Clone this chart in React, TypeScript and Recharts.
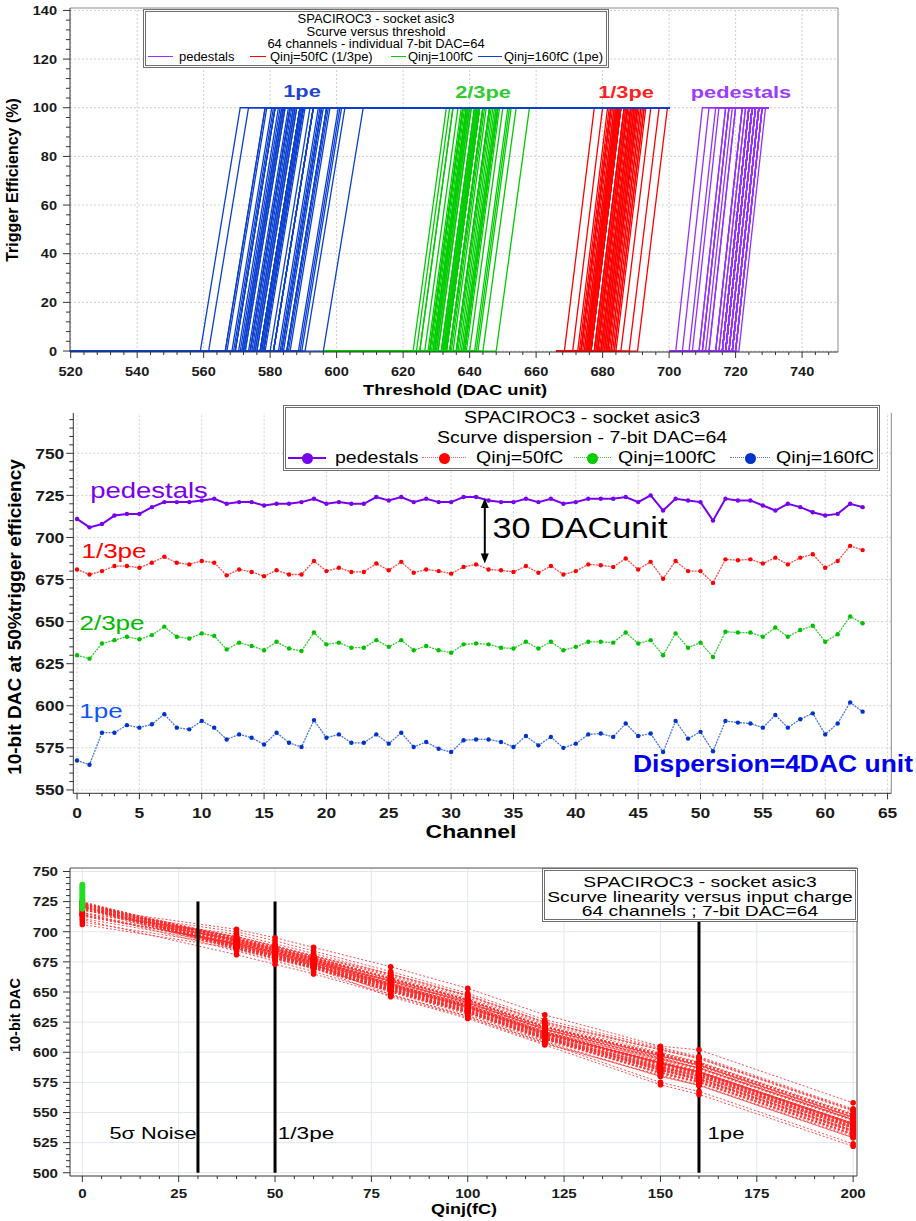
import React from 'react';
import { LineChart, Line, XAxis, YAxis, ReferenceLine } from 'recharts';

const FONT = '"Liberation Sans", Arial, Helvetica, sans-serif';

// 10-bit DAC at 50% trigger efficiency, one value per channel (0..63)
const pedestals = [
  711, 706, 708, 713, 714, 714, 718, 721, 721, 721,
  722, 723, 720, 721, 721, 719, 720, 720, 721, 723,
  720, 721, 720, 720, 724, 722, 724, 721, 723, 721,
  721, 724, 724, 722, 721, 721, 723, 721, 723, 720,
  721, 723, 723, 723, 724, 721, 725, 716, 723, 722,
  721, 710, 723, 722, 722, 719, 716, 720, 718, 715,
  713, 714, 720, 718,
];
// Qinj = 50fC (1/3pe)
const thirdPe = [
  681, 678, 680, 683, 683, 682, 685, 688.5, 685, 684,
  686, 685, 677.5, 681, 679.5, 677, 680.5, 678, 678, 686,
  680, 682, 679.5, 679.5, 684.5, 680.5, 685.5, 679, 681, 680,
  678.5, 682.5, 684, 681, 680.5, 679.5, 683, 679, 683, 678,
  680, 684, 683.5, 682.5, 687.5, 681, 685.5, 675.5, 686, 680,
  680, 673, 687, 686.5, 687, 684.5, 688, 684, 688, 690,
  682, 686, 695, 692.5,
];
// Qinj = 100fC (2/3pe)
const twoThirdPe = [
  630, 628, 637, 639, 641, 639.5, 642, 647, 641, 640,
  643, 641.5, 633.5, 637.5, 635.5, 633, 638, 634, 632.5, 643.5,
  636.5, 637.5, 634.5, 634.5, 639, 635, 639, 633, 635.5, 633,
  631.5, 636.5, 637, 636.5, 634.5, 634, 638, 634, 638, 633,
  635, 638, 638, 637.5, 643.5, 637, 639, 630, 643, 634.5,
  637.5, 629, 644, 643.5, 643.5, 641, 646.5, 641, 645, 647.5,
  638, 642.5, 653, 649,
];
// Qinj = 160fC (1pe)
const onePe = [
  567.5, 565, 584, 584, 588.5, 587, 589, 595, 587, 586,
  591, 587, 580, 583, 581, 577, 584, 578, 575.5, 591.5,
  581, 583, 578, 578, 583, 577.5, 584, 575.5, 578.5, 574.5,
  572.5, 579.5, 580, 580, 578.5, 575.5, 582, 576.5, 581.5, 575,
  577.5, 583, 583.5, 581.5, 589.5, 582, 583.5, 572.5, 591, 580.5,
  584.5, 573, 591, 590, 589.5, 587, 594.5, 587, 592, 595.5,
  583, 589.5, 602, 596.5,
];

// linearity scan, other charge steps (estimated per channel)
const dac40 = [
  689, 686, 688, 691, 690, 690, 693, 696, 693, 692,
  694, 693, 686, 689, 688, 685, 689, 686, 686, 694,
  688, 690, 688, 687, 692, 689, 693, 687, 689, 688,
  687, 690, 692, 689, 689, 688, 691, 687, 691, 686,
  688, 692, 691, 690, 695, 689, 693, 684, 694, 688,
  688, 681, 695, 694, 695, 692, 696, 692, 696, 698,
  690, 694, 702, 700,
];
const dac60 = [
  673, 670, 672, 675, 675, 674, 677, 680, 677, 676,
  678, 677, 670, 673, 671, 669, 672, 670, 670, 678,
  672, 674, 671, 672, 676, 672, 677, 671, 673, 672,
  670, 674, 676, 673, 672, 671, 675, 671, 675, 670,
  672, 676, 675, 674, 679, 673, 677, 667, 678, 672,
  672, 665, 679, 678, 679, 676, 680, 676, 680, 682,
  674, 678, 687, 684,
];
const dac80 = [
  648, 646, 655, 657, 659, 657, 660, 665, 659, 658,
  661, 659, 652, 655, 653, 651, 656, 652, 650, 661,
  654, 655, 652, 653, 657, 653, 657, 651, 654, 651,
  650, 654, 655, 654, 652, 652, 656, 652, 656, 651,
  653, 656, 656, 655, 661, 655, 657, 648, 661, 652,
  655, 647, 662, 661, 661, 659, 664, 659, 663, 665,
  656, 660, 671, 667,
];
const dac120 = [
  608, 606, 615, 617, 619, 617, 620, 625, 619, 618,
  621, 619, 611, 615, 613, 611, 616, 612, 610, 621,
  614, 615, 612, 613, 617, 613, 617, 611, 613, 611,
  609, 614, 615, 614, 612, 612, 616, 612, 616, 611,
  613, 616, 616, 615, 621, 615, 617, 608, 621, 612,
  615, 607, 622, 621, 621, 619, 624, 619, 623, 625,
  616, 620, 631, 627,
];
const dac150 = [
  575, 573, 592, 591, 596, 594, 597, 602, 595, 593,
  598, 595, 587, 591, 588, 585, 591, 586, 583, 599,
  588, 591, 585, 586, 590, 585, 592, 583, 586, 582,
  580, 587, 588, 587, 586, 583, 590, 584, 589, 583,
  585, 591, 591, 589, 597, 590, 591, 580, 599, 588,
  592, 581, 598, 598, 597, 595, 602, 594, 600, 603,
  591, 597, 605, 604,
];
const dac200 = [
  524, 522, 541, 541, 545, 544, 546, 552, 544, 543,
  548, 544, 537, 540, 538, 534, 541, 535, 532, 548,
  538, 540, 535, 535, 540, 534, 541, 532, 535, 531,
  529, 536, 537, 537, 535, 532, 539, 533, 538, 532,
  534, 540, 540, 538, 546, 539, 540, 529, 548, 537,
  541, 530, 548, 547, 546, 544, 551, 544, 549, 552,
  540, 546, 558, 553,
];
const charges = [0, 40, 50, 60, 80, 100, 120, 150, 160, 200];
const dacByCharge = [pedestals, dac40, thirdPe, dac60, dac80, twoThirdPe, dac120, dac150, onePe, dac200];
// green points at Qinj=0
const zeroChargeGreen = [719, 721, 722, 724, 726, 727, 729, 731, 733, 735, 737, 739];

// S-curve scans: threshold range and half width of the 0->100% rise
const scanPed = [700, 730];
const scanThird = [666, 700];
const scanTwoThird = [596, 666];
const scanOne = [520, 700];
const riseHalfWidth = [4, 4.5, 5, 6]; // pedestals, 1/3pe, 2/3pe, 1pe

// tick labels
const topXLabels = [520, 540, 560, 580, 600, 620, 640, 660, 680, 700, 720, 740];
const topYLabels = [0, 20, 40, 60, 80, 100, 120, 140];
const midXLabels = [0, 5, 10, 15, 20, 25, 30, 35, 40, 45, 50, 55, 60, 65];
const midYLabels = [550, 575, 600, 625, 650, 675, 700, 725, 750];
const botXLabels = [0, 25, 50, 75, 100, 125, 150, 175, 200];
const botYLabels = [500, 525, 550, 575, 600, 625, 650, 675, 700, 725, 750];

const steps = (from: number, to: number, step: number) => {
  const out: number[] = [];
  for (let v = from; v <= to + 1e-9; v += step) out.push(v);
  return out;
};

const sCurve = (center: number, scan: number[], hw: number) => [
  { x: scan[0], y: 0 },
  { x: center - hw, y: 0 },
  { x: center + hw, y: 100 },
  { x: scan[1], y: 100 },
];

function makeXTick(labels: number[], size: number, sx: number, dy: number) {
  return (p: any) => {
    const v = p.payload.value;
    const major = labels.some((l) => Math.abs(l - v) < 1e-6);
    return (
      <g>
        <line x1={p.x} x2={p.x} y1={p.y} y2={p.y + (major ? 6 : 3)} stroke="#333" />
        {major && (
          <text transform={`translate(${p.x},${p.y + dy}) scale(${sx},1)`} textAnchor="middle" dy="0.36em"
            fontFamily={FONT} fontSize={size} fontWeight={700} fill="#1a1a1a">{v}</text>
        )}
      </g>
    );
  };
}

function makeYTick(labels: number[], size: number, sx: number, dx: number) {
  return (p: any) => {
    const v = p.payload.value;
    const major = labels.some((l) => Math.abs(l - v) < 1e-6);
    return (
      <g>
        <line x1={p.x - (major ? 7 : 4)} x2={p.x} y1={p.y} y2={p.y} stroke="#333" />
        {major && (
          <text transform={`translate(${p.x - dx},${p.y}) scale(${sx},1)`} textAnchor="end" dy="0.36em"
            fontFamily={FONT} fontSize={size} fontWeight={700} fill="#1a1a1a">{v}</text>
        )}
      </g>
    );
  };
}

function Txt({ x, y, text, size, color = '#000', bold = false, anchor = 'middle', sx = 1, rotate = 0 }: any) {
  const tx = anchor === 'middle' ? '-50%' : anchor === 'end' ? '-100%' : '0%';
  const ox = anchor === 'middle' ? '50%' : anchor === 'end' ? '100%' : '0%';
  return (
    <div style={{
      position: 'absolute', left: x, top: y, whiteSpace: 'nowrap', fontFamily: FONT, fontSize: size,
      fontWeight: bold ? 700 : 400, color, lineHeight: 1, transformOrigin: `${ox} 50%`,
      transform: `translate(${tx}, -50%) rotate(${rotate}deg) scaleX(${sx})`,
    }}>{text}</div>
  );
}

const Box = ({ x, y, w, h }: any) => (
  <div style={{ position: 'absolute', left: x, top: y, width: w, height: h, boxSizing: 'border-box',
    border: '3px double #6e6e6e', background: '#fff' }} />
);

const Seg = ({ x1, x2, y, color, width = 1.5, style = 'solid' }: any) => (
  <div style={{ position: 'absolute', left: x1, top: y - width / 2, width: x2 - x1, height: 0,
    borderTop: `${width}px ${style} ${color}` }} />
);

const Dot = ({ x, y, d, color }: any) => (
  <div style={{ position: 'absolute', left: x - d / 2, top: y - d / 2, width: d, height: d,
    borderRadius: '50%', background: color }} />
);

const arrowShape = (p: any) => {
  const x = p.x1;
  const top = Math.min(p.y1, p.y2);
  const bot = Math.max(p.y1, p.y2);
  return (
    <g>
      <line x1={x} x2={x} y1={top + 6} y2={bot - 6} stroke="#000" strokeWidth={2} />
      <polygon points={`${x},${top} ${x - 4},${top + 10} ${x + 4},${top + 10}`} fill="#000" />
      <polygon points={`${x},${bot} ${x - 4},${bot - 10} ${x + 4},${bot - 10}`} fill="#000" />
    </g>
  );
};
const arrowChannel = 32.7;
const arrowFrom = 684.5;
const arrowTo = 723.5;

const groups = [
  { id: 'ped', values: pedestals, scan: scanPed, hw: riseHalfWidth[0], color: '#9430ff' },
  { id: 'third', values: thirdPe, scan: scanThird, hw: riseHalfWidth[1], color: '#ff0000' },
  { id: 'two', values: twoThirdPe, scan: scanTwoThird, hw: riseHalfWidth[2], color: '#00cc00' },
  { id: 'one', values: onePe, scan: scanOne, hw: riseHalfWidth[3], color: '#0b3fcf' },
];

const dispersionRows = pedestals.map((p, ch) => ({
  ch, ped: p, third: thirdPe[ch], two: twoThirdPe[ch], one: onePe[ch],
}));

const linearity = pedestals.map((_, ch) => charges.map((q, k) => ({ q, dac: dacByCharge[k][ch] })));
const greenZero = zeroChargeGreen.map((v) => ({ q: 0, dac: v }));

const TOP_X = [519.8, 750.8];
const TOP_Y = [-0.4, 141];
const MID_X = [-0.3, 65.3];
const MID_Y = [548, 774];
const BOT_X = [-3.2, 201];
const BOT_Y = [497.3, 752.9];

export default function App() {
  return (
    <div style={{ position: 'absolute', left: 0, top: 0, width: 916, height: 1221, background: '#fff', overflow: 'hidden' }}>
      {/* ---------- S-curves versus threshold ---------- */}
      <div style={{ position: 'absolute', left: 0, top: 0 }}>
        <LineChart width={916} height={400} margin={{ top: 8, right: 78, bottom: 18, left: 30 }}>
          <XAxis type="number" dataKey="x" domain={TOP_X} allowDataOverflow ticks={steps(520, 748, 4)} interval={0}
            height={30} tickSize={0} tickMargin={0} tickLine={false} axisLine={{ stroke: '#333' }}
            tick={makeXTick(topXLabels, 13, 1.12, 19)} />
          <YAxis type="number" domain={TOP_Y} allowDataOverflow ticks={steps(0, 140, 4)} interval={0}
            width={40} tickSize={0} tickMargin={0} tickLine={false} axisLine={{ stroke: '#333' }}
            tick={makeYTick(topYLabels, 13, 1.12, 13)} />
          {topXLabels.map((v) => (
            <ReferenceLine key={'gx' + v} x={v} stroke="#cfcfcf" strokeDasharray="2 2" />
          ))}
          {topYLabels.map((v) => (
            <ReferenceLine key={'gy' + v} y={v} stroke="#cfcfcf" strokeDasharray="2 2" />
          ))}
          <ReferenceLine y={TOP_Y[1]} stroke="#8a8a8a" ifOverflow="visible" />
          <ReferenceLine x={TOP_X[1]} stroke="#8a8a8a" ifOverflow="visible" />
          {groups.flatMap((g) =>
            g.values.map((c, ch) => (
              <Line key={g.id + ch} data={sCurve(c, g.scan, g.hw)} dataKey="y" stroke={g.color}
                strokeWidth={1.3} dot={false} activeDot={false} isAnimationActive={false} />
            ))
          )}
        </LineChart>
      </div>

      {/* ---------- Scurve dispersion ---------- */}
      <div style={{ position: 'absolute', left: 0, top: 400 }}>
        <LineChart width={916} height={440} data={dispersionRows}
          margin={{ top: 12.9, right: 24.7, bottom: 16.7, left: 33.3 }}>
          <XAxis type="number" dataKey="ch" domain={MID_X} allowDataOverflow ticks={steps(0, 65, 1)} interval={0}
            height={30} tickSize={0} tickMargin={0} tickLine={false} axisLine={{ stroke: '#333' }}
            tick={makeXTick(midXLabels, 14.5, 1.2, 19.5)} />
          <YAxis type="number" domain={MID_Y} allowDataOverflow ticks={steps(550, 770, 5)} interval={0}
            width={40} tickSize={0} tickMargin={0} tickLine={false} axisLine={{ stroke: '#333' }}
            tick={makeYTick(midYLabels, 14.5, 1.2, 9)} />
          {midXLabels.map((v) => (
            <ReferenceLine key={'gx' + v} x={v} stroke="#d2d2d2" strokeDasharray="2 2" />
          ))}
          {midYLabels.map((v) => (
            <ReferenceLine key={'gy' + v} y={v} stroke="#d2d2d2" strokeDasharray="2 2" />
          ))}
          <ReferenceLine x={MID_X[1]} stroke="#8a8a8a" ifOverflow="visible" />
          <Line dataKey="one" stroke="#4a74dd" strokeWidth={1.3} strokeDasharray="2 1"
            dot={{ r: 2.2, fill: '#0033cc', stroke: 'none' }} activeDot={false} isAnimationActive={false} />
          <Line dataKey="two" stroke="#33cc33" strokeWidth={1.3} strokeDasharray="2 1"
            dot={{ r: 2.2, fill: '#00c000', stroke: 'none' }} activeDot={false} isAnimationActive={false} />
          <Line dataKey="third" stroke="#ff4a4a" strokeWidth={1.3} strokeDasharray="2 1"
            dot={{ r: 2.2, fill: '#ff0000', stroke: 'none' }} activeDot={false} isAnimationActive={false} />
          <Line dataKey="ped" stroke="#7700ee" strokeWidth={2}
            dot={{ r: 2.2, fill: '#7700ee', stroke: 'none' }} activeDot={false} isAnimationActive={false} />
          <ReferenceLine segment={[{ x: arrowChannel, y: arrowFrom }, { x: arrowChannel, y: arrowTo }]}
            shape={arrowShape} />
        </LineChart>
      </div>

      {/* ---------- Scurve linearity versus input charge ---------- */}
      <div style={{ position: 'absolute', left: 0, top: 850 }}>
        <LineChart width={916} height={371} margin={{ top: 18, right: 59, bottom: 15, left: 30 }}>
          <XAxis type="number" dataKey="q" domain={BOT_X} allowDataOverflow ticks={steps(0, 200, 5)} interval={0}
            height={30} tickSize={0} tickMargin={0} tickLine={false} axisLine={{ stroke: '#333' }}
            tick={makeXTick(botXLabels, 13.5, 1.12, 17)} />
          <YAxis type="number" domain={BOT_Y} allowDataOverflow ticks={steps(500, 750, 5)} interval={0}
            width={40} tickSize={0} tickMargin={0} tickLine={false} axisLine={{ stroke: '#333' }}
            tick={makeYTick(botYLabels, 13.5, 1.12, 12)} />
          {botXLabels.map((v) => (
            <ReferenceLine key={'gx' + v} x={v} stroke="#e3e7f0" />
          ))}
          {botYLabels.map((v) => (
            <ReferenceLine key={'gy' + v} y={v} stroke="#e3e7f0" />
          ))}
          <ReferenceLine y={BOT_Y[1]} stroke="#8a8a8a" strokeWidth={1.5} ifOverflow="visible" />
          <ReferenceLine x={BOT_X[1]} stroke="#8a8a8a" strokeWidth={1.5} ifOverflow="visible" />
          {linearity.map((rows, ch) => (
            <Line key={'lin' + ch} data={rows} dataKey="dac" stroke="#ff2a2a" strokeOpacity={0.85}
              strokeWidth={1} strokeDasharray="2 2" dot={{ r: 2.8, fill: '#ff0000', stroke: 'none' }}
              activeDot={false} isAnimationActive={false} />
          ))}
          <Line data={greenZero} dataKey="dac" stroke="none" dot={{ r: 3, fill: '#22dd22', stroke: 'none' }}
            activeDot={false} isAnimationActive={false} />
          {[30, 50, 160].map((q) => (
            <ReferenceLine key={'v' + q} segment={[{ x: q, y: 500 }, { x: q, y: 725 }]} stroke="#000" strokeWidth={3} />
          ))}
        </LineChart>
      </div>

      {/* ---------- overlays: legends, titles, annotations ---------- */}
      <div style={{ position: 'absolute', left: 0, top: 0, width: 916, height: 1221, pointerEvents: 'none' }}>
        {/* top panel */}
        <Box x={143} y={9} w={466} h={59} />
        <Txt x={376} y={19} size={12} sx={1.08} text="SPACIROC3 - socket asic3" />
        <Txt x={376} y={31.5} size={12} sx={1.08} text="Scurve versus threshold" />
        <Txt x={376} y={44} size={12} sx={1.08} text="64 channels - individual 7-bit DAC=64" />
        <Seg x1={148} x2={173} y={57} color="#9430ff" />
        <Txt x={179} y={57} size={12} sx={1.08} anchor="start" text="pedestals" />
        <Seg x1={250} x2={266} y={57} color="#ff0000" />
        <Txt x={270} y={57} size={12} sx={1.08} anchor="start" text="Qinj=50fC (1/3pe)" />
        <Seg x1={391} x2={406} y={57} color="#00cc00" />
        <Txt x={408} y={57} size={12} sx={1.08} anchor="start" text="Qinj=100fC" />
        <Seg x1={478} x2={502} y={57} color="#0b3fcf" />
        <Txt x={504} y={57} size={12} sx={1.08} anchor="start" text="Qinj=160fC (1pe)" />
        <Txt x={302} y={91} size={17} sx={1.28} bold color="#1f45d0" text="1pe" />
        <Txt x={483} y={92} size={17} sx={1.28} bold color="#2ecc2e" text="2/3pe" />
        <Txt x={626} y={92} size={17} sx={1.28} bold color="#ff2020" text="1/3pe" />
        <Txt x={741} y={92} size={17} sx={1.28} bold color="#9b3cff" text="pedestals" />
        <Txt x={455} y={389} size={15} sx={1.22} bold text="Threshold (DAC unit)" />
        <Txt x={13} y={180} size={16} bold rotate={-90} text="Trigger Efficiency (%)" />

        {/* middle panel */}
        <Box x={283} y={405} w={597} h={66} />
        <Txt x={581.5} y={418} size={16} sx={1.22} text="SPACIROC3 - socket asic3" />
        <Txt x={581.5} y={438} size={16} sx={1.22} text="Scurve dispersion - 7-bit DAC=64" />
        <Seg x1={288} x2={326} y={458} color="#7700ee" width={2.5} />
        <Dot x={307} y={458} d={11} color="#7700ee" />
        <Txt x={335} y={458} size={16} sx={1.22} anchor="start" text="pedestals" />
        <Seg x1={422} x2={466} y={458} color="#ff6060" style="dotted" />
        <Dot x={444} y={458} d={11} color="#ff0000" />
        <Txt x={476} y={458} size={16} sx={1.22} anchor="start" text="Qinj=50fC" />
        <Seg x1={574} x2={611} y={458} color="#33cc33" style="dotted" />
        <Dot x={592} y={458} d={11} color="#00cc00" />
        <Txt x={618} y={458} size={16} sx={1.22} anchor="start" text="Qinj=100fC" />
        <Seg x1={730} x2={770} y={458} color="#5577dd" style="dotted" />
        <Dot x={750} y={458} d={11} color="#0033cc" />
        <Txt x={776} y={458} size={16} sx={1.22} anchor="start" text="Qinj=160fC" />
        <Txt x={149} y={491} size={22} sx={1.25} color="#7a00ee" text="pedestals" />
        <Txt x={114} y={550} size={21} sx={1.24} color="#ff0000" text="1/3pe" />
        <Txt x={112} y={622} size={21} sx={1.24} color="#00bb00" text="2/3pe" />
        <Txt x={101} y={710} size={21} sx={1.24} color="#1155ff" text="1pe" />
        <Txt x={580} y={528} size={30} sx={1.14} text="30 DACunit" />
        <Txt x={633} y={764} size={23} sx={1.15} bold anchor="start" color="#0000ee" text="Dispersion=4DAC unit" />
        <Txt x={471} y={832} size={18} sx={1.28} bold text="Channel" />
        <Txt x={14} y={617} size={19} bold rotate={-90} text="10-bit DAC at 50%trigger efficiency" />

        {/* bottom panel */}
        <Box x={542} y={868} w={316} h={54} />
        <Txt x={700} y={882} size={14.5} sx={1.33} text="SPACIROC3 - socket asic3" />
        <Txt x={700} y={897} size={14.5} sx={1.33} text="Scurve linearity versus input charge" />
        <Txt x={700} y={911} size={14.5} sx={1.33} text="64 channels ; 7-bit DAC=64" />
        <Txt x={153} y={1133} size={17} sx={1.28} text="5σ Noise" />
        <Txt x={306} y={1133} size={17} sx={1.33} text="1/3pe" />
        <Txt x={726} y={1133} size={17} sx={1.3} text="1pe" />
        <Txt x={464} y={1208} size={15} sx={1.2} bold text="Qinj(fC)" />
        <Txt x={15} y={1015} size={14.5} bold rotate={-90} text="10-bit DAC" />
      </div>
    </div>
  );
}
